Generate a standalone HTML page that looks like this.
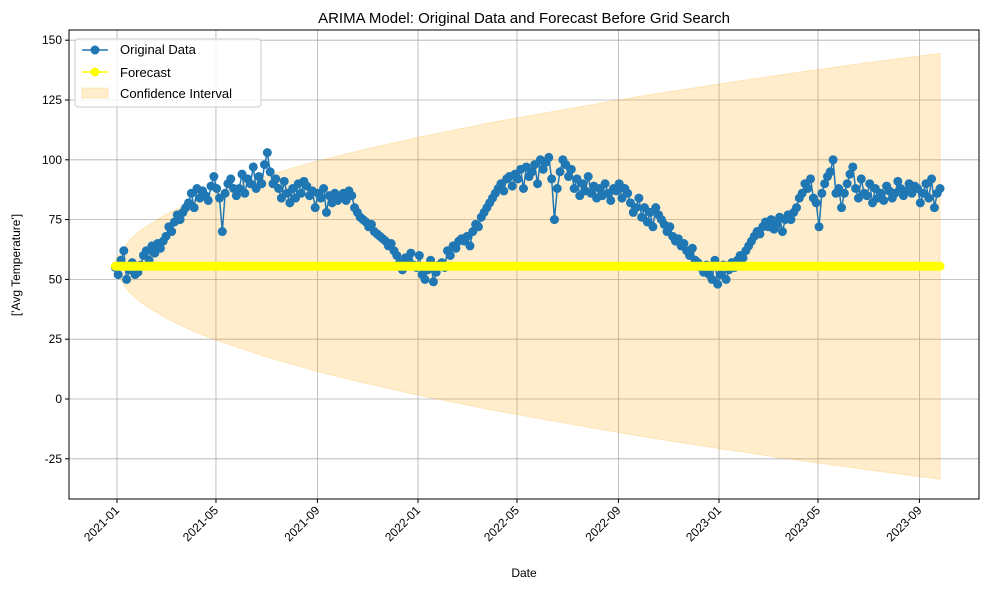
<!DOCTYPE html>
<html><head><meta charset="utf-8"><style>
body{margin:0;background:#fff;}
svg{font-family:"Liberation Sans","DejaVu Sans",sans-serif;}
</style></head><body>
<svg id="chart" width="989" height="590" xmlns="http://www.w3.org/2000/svg"></svg>
<script>
const yTicks=[-25,0,25,50,75,100,125,150];
const xTickLabels=["2021-01","2021-05","2021-09","2022-01","2022-05","2022-09","2023-01","2023-05","2023-09"];
const xTickDays=[0,120,243,365,485,608,730,850,973];
const tempValues=[
55,52,58,62,50,54,57,52,53, 56,60,62,58,64,61,65,63, 66,68,72,70,74,77,75,78,80, 82,86,80,88,84,87,85,83,89,
93,88,84,70,86,90,92,88,85, 88,94,86,92,90,97,88,93,90, 98,103,95,90,92,88,84,91,86, 82,88,84,90,86,91,89,85,87,
80,86,84,88,78,85,82,86,83, 84,86,83,87,85,80,78,76,75, 74,72,73,70,69,68,67,66,64, 65,62,60,57,54,59,58,61,56,
55,60,52,50,54,58,49,53,56, 57,55,62,60,64,63,66,67, 66,68,64,70,73,72,76,78,80, 82,84,86,88,90,87,92,93,89,
94,92,96,88,97,93,95,98,90, 100,96,99,101,92,75,88,95,100, 98,93,96,88,92,85,90,87,93, 86,89,84,88,85,90,86,83,88,
87,90,84,88,86,82,78,80,84, 76,80,74,78,72,80,77,75,73, 70,72,68,66,67,64,65,62,60, 63,58,57,55,53,56,52,50,58,
48,52,56,50,54,57,55,58,60, 59,62,64,66,68,70,69,72, 74,72,75,71,73,76,70,75,77, 75,78,80,84,86,90,88,92,84,
82,72,86,90,93,95,100,86,88, 80,86,90,94,97,88,84,92,86, 85,90,82,88,84,86,83,89,87, 84,86,91,88,85,87,90,86,89,
88,82,86,90,84,92,80,86,88];
const startDay=-2, endDay=998;
const forecastValue=55.5;
const ciDays=[-2,15,30,60,90,120,180,240,300,365,450,540,630,730,820,910,998];
const ciUpper=[58,66.4,70.9,77.3,82.3,86.4,93.3,99.2,104.3,109.4,115.3,120.9,126.3,131.7,136.3,140.6,144.5];
const ciLower=[53,44.6,40.1,33.7,28.7,24.6,17.7,11.8,6.7,1.6,-4.3,-9.9,-15.3,-20.7,-25.3,-29.6,-33.5];

const svg=document.getElementById('chart');const NS="http://www.w3.org/2000/svg";
const L=69,R=979,T=30,B=499;
const x=d=>117+d*0.8247;
const y=v=>399-v*2.392;
const step=(endDay-startDay)/(tempValues.length-1);
function el(tag,attrs,parent){const e=document.createElementNS(NS,tag);for(const k in attrs)e.setAttribute(k,attrs[k]);(parent||svg).appendChild(e);return e;}
const grid=el('g',{});


xTickDays.forEach(d=>el('line',{x1:x(d),x2:x(d),y1:T,y2:B,stroke:'#b0b0b0','stroke-width':0.8},grid));
yTicks.forEach(v=>el('line',{x1:L,x2:R,y1:y(v),y2:y(v),stroke:'#b0b0b0','stroke-width':0.8},grid));
let pts=ciDays.map((d,i)=>x(d)+','+y(ciUpper[i]));
for(let i=ciDays.length-1;i>=0;i--)pts.push(x(ciDays[i])+','+y(ciLower[i]));
const ci=el('polygon',{points:pts.join(' '),fill:'#ffa500','fill-opacity':0.2,stroke:'#ffa500','stroke-opacity':0.2});


const og=el('g',{});


const op=tempValues.map((v,i)=>x(startDay+i*step)+','+y(v)).join(' ');
el('polyline',{points:op,fill:'none',stroke:'#1f77b4','stroke-width':1.5},og);
tempValues.forEach((v,i)=>el('circle',{cx:x(startDay+i*step),cy:y(v),r:4.5,fill:'#1f77b4'},og));
const fg=el('g',{});


el('line',{x1:x(startDay),x2:x(endDay),y1:y(forecastValue),y2:y(forecastValue),stroke:'#ffff00','stroke-width':9,'stroke-linecap':'round'},fg);
el('rect',{x:L,y:T,width:R-L,height:B-T,fill:'none',stroke:'#000','stroke-width':1});
yTicks.forEach(v=>{el('line',{x1:L-4,x2:L,y1:y(v),y2:y(v),stroke:'#000'});
const t=el('text',{x:L-7,y:y(v)+4,'text-anchor':'end','font-size':12});t.textContent=v;

});
xTickDays.forEach((d,i)=>{el('line',{x1:x(d),x2:x(d),y1:B,y2:B+4,stroke:'#000'});
const t=el('text',{x:x(d)+3,y:B+12,'text-anchor':'end','font-size':12,transform:`rotate(-45 ${x(d)+3} ${B+12})`});t.textContent=xTickLabels[i];

});
</script>
<svg style="position:absolute;left:0;top:0" width="989" height="590">
<text x="524" y="23" text-anchor="middle" font-size="15">ARIMA Model: Original Data and Forecast Before Grid Search</text>
<text x="524" y="577" text-anchor="middle" font-size="12">Date</text>
<text x="20" y="265" text-anchor="middle" font-size="12" transform="rotate(-90 20 265)">['Avg Temperature']</text>
<g>
<rect x="75" y="39" width="186" height="68" rx="3" fill="#fff" fill-opacity="0.85" stroke="#ccc"/>
<g><line x1="82" x2="108" y1="50" y2="50" stroke="#1f77b4" stroke-width="1.5"/><circle cx="95" cy="50" r="4.5" fill="#1f77b4"/><text x="120" y="54" font-size="13">Original Data</text></g>
<g><line x1="82" x2="108" y1="72" y2="72" stroke="#ffff00" stroke-width="1.5"/><circle cx="95" cy="72" r="4.5" fill="#ffff00"/><text x="120" y="77" font-size="13">Forecast</text></g>
<g><rect x="82" y="88" width="26" height="10" fill="#ffa500" fill-opacity="0.2" stroke="#ffa500" stroke-opacity="0.2"/><text x="120" y="98" font-size="13">Confidence Interval</text></g>
</g>
</svg>
</body></html>
